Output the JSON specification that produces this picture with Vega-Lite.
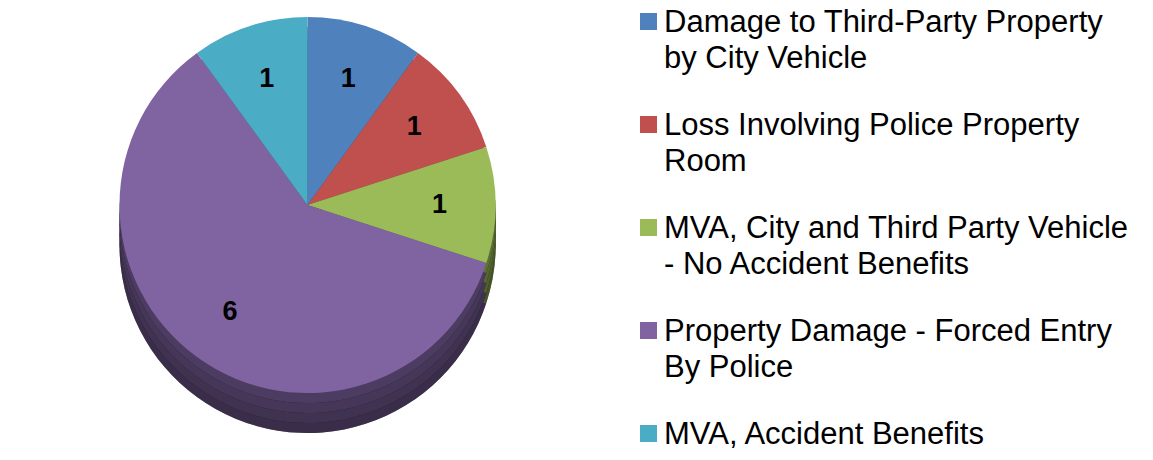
{
  "$schema": "https://vega.github.io/schema/vega-lite/v6.json",
  "width": 615,
  "height": 410,
  "padding": 0,
  "background": "white",
  "data": {"values": [
    {"cat": "Damage to Third-Party Property by City Vehicle", "n": 1, "o": 1},
    {"cat": "Loss Involving Police Property Room", "n": 1, "o": 2},
    {"cat": "MVA, City and Third Party Vehicle - No Accident Benefits", "n": 1, "o": 3},
    {"cat": "Property Damage - Forced Entry By Police", "n": 6, "o": 4},
    {"cat": "MVA, Accident Benefits", "n": 1, "o": 5}
  ]},
  "encoding": {
    "theta": {"field": "n", "type": "quantitative", "stack": true},
    "order": {"field": "o", "type": "quantitative"},
    "color": {
      "field": "cat", "type": "nominal", "sort": null,
      "scale": {
        "domain": ["Damage to Third-Party Property by City Vehicle", "Loss Involving Police Property Room", "MVA, City and Third Party Vehicle - No Accident Benefits", "Property Damage - Forced Entry By Police", "MVA, Accident Benefits"],
        "range": ["#4F81BD", "#C0504D", "#9BBB59", "#8064A2", "#4BACC6"]
      },
      "legend": {
        "title": null,
        "orient": "none",
        "legendX": 633,
        "legendY": 6,
        "symbolType": "square",
        "symbolSize": 290,
        "symbolStrokeWidth": 0,
        "symbolOpacity": 1,
        "labelFont": "Liberation Sans",
        "labelFontSize": 31,
        "labelColor": "black",
        "labelLimit": 600,
        "labelOffset": 0,
        "labelBaseline": "top",
        "rowPadding": 35,
        "padding": 0,
        "labelExpr": "datum.label == 'Damage to Third-Party Property by City Vehicle' ? ['Damage to Third-Party Property','by City Vehicle'] : datum.label == 'Loss Involving Police Property Room' ? ['Loss Involving Police Property','Room'] : datum.label == 'MVA, City and Third Party Vehicle - No Accident Benefits' ? ['MVA, City and Third Party Vehicle','- No Accident Benefits'] : datum.label == 'Property Damage - Forced Entry By Police' ? ['Property Damage - Forced Entry','By Police'] : datum.label"
      }
    }
  },
  "layer": [
    {"mark": {"type": "arc", "radius": 188, "yOffset": 40, "fill": "black"}},
    {"mark": {"type": "arc", "radius": 188, "yOffset": 40, "opacity": 0.45}},
    {"mark": {"type": "arc", "radius": 188, "yOffset": 30, "fill": "black"}},
    {"mark": {"type": "arc", "radius": 188, "yOffset": 30, "opacity": 0.5}},
    {"mark": {"type": "arc", "radius": 188, "yOffset": 20, "fill": "black"}},
    {"mark": {"type": "arc", "radius": 188, "yOffset": 20, "opacity": 0.55}},
    {"mark": {"type": "arc", "radius": 188, "yOffset": 10, "fill": "black"}},
    {"mark": {"type": "arc", "radius": 188, "yOffset": 10, "opacity": 0.6}},
    {"mark": {"type": "arc", "radius": 188}},
    {
      "mark": {"type": "text", "radius": 132, "font": "Liberation Sans", "fontSize": 27, "fontWeight": "bold", "fill": "black"},
      "encoding": {"text": {"field": "n", "type": "quantitative"}, "color": {"value": "black"}}
    }
  ],
  "config": {
    "view": {"stroke": null},
    "style": {"guide-label": {"lineHeight": 36, "dy": -14}}
  }
}
